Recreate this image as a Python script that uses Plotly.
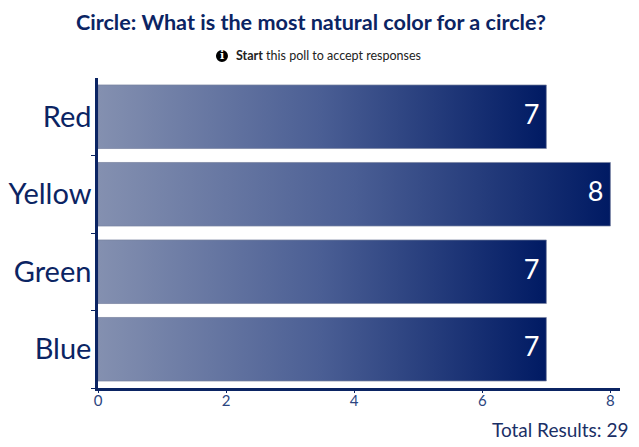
import plotly.graph_objects as go

# poll data
categories = ["Red", "Yellow", "Green", "Blue"]
votes = [7, 8, 7, 7]
x_ticks = [0, 2, 4, 6, 8]

title_text = "Circle: What is the most natural color for a circle?"
total_text = "Total Results: 29"

navy = "#0b2463"
bar_half = 0.41

fig = go.Figure()

# each bar is a filled rectangle so it can carry a left-to-right gradient
for i, (cat, v) in enumerate(zip(categories, votes)):
    fig.add_trace(go.Scatter(
        x=[0, v, v, 0, 0],
        y=[i - bar_half, i - bar_half, i + bar_half, i + bar_half, i - bar_half],
        mode="lines",
        fill="toself",
        fillgradient=dict(type="horizontal",
                          colorscale=[[0, "#8490b0"], [0.5, "#4a5e94"], [1, "#001a63"]]),
        line=dict(color="rgba(120,130,160,0.7)", width=1),
        hoverinfo="skip",
        showlegend=False,
    ))

# value labels at the end of each bar
fig.add_trace(go.Scatter(
    x=votes,
    y=list(range(len(categories))),
    mode="text",
    text=[str(v) + " " for v in votes],
    textposition="middle left",
    textfont=dict(color="white", size=27, family="Lato"),
    hoverinfo="skip",
    showlegend=False,
))

# page body adds 8px, so the figure is 8px smaller than the window
fig.update_layout(
    width=631,
    height=439,
    margin=dict(l=90, r=19, t=70, b=59),
    paper_bgcolor="white",
    plot_bgcolor="white",
    font=dict(family="Lato", color=navy),
    title=dict(text="<b>" + title_text + "</b>", x=0.48, xanchor="center",
               y=0.968, yanchor="middle", font=dict(size=21.6, color=navy)),
)

fig.update_xaxes(
    range=[0, 8.15],
    tickvals=x_ticks,
    showgrid=False,
    zeroline=False,
    showline=True,
    linecolor=navy,
    linewidth=2.5,
    ticks="outside",
    ticklen=2,
    tickcolor=navy,
    ticklabelstandoff=-5,
    tickfont=dict(size=15, color="#2c4580"),
    automargin=False,
)

fig.update_yaxes(
    range=[3.5, -0.5],
    tickvals=list(range(len(categories))),
    ticktext=categories,
    showgrid=False,
    zeroline=False,
    showline=True,
    linecolor=navy,
    linewidth=2.5,
    ticks="",
    ticklabelstandoff=-2,
    tickfont=dict(size=29, color=navy),
    minor=dict(tickvals=[0.5, 1.5, 2.5, 3.5], ticks="outside", ticklen=4, tickcolor=navy),
    automargin=False,
)

# "Start this poll" note with info icon
fig.add_shape(type="circle", xref="paper", yref="paper", layer="below",
              x0=0.226, x1=0.249, y0=1.052, y1=1.09,
              fillcolor="black", line=dict(color="black", width=0))
fig.add_annotation(text="<b>i</b>", xref="paper", yref="paper", x=0.2375, y=1.071,
                   xanchor="center", yanchor="middle", showarrow=False,
                   font=dict(size=11, color="white", family="DejaVu Serif"))
fig.add_annotation(text="<b>Start</b> this poll to accept responses", xref="paper", yref="paper",
                   x=0.4425, y=1.071, xanchor="center", yanchor="middle", showarrow=False,
                   font=dict(size=12.5, color="#222222"))

fig.add_annotation(text=total_text, xref="paper", yref="paper", x=1.019, y=-0.135,
                   xanchor="right", yanchor="middle", showarrow=False,
                   font=dict(size=19, color="#1a2f66"))

fig.write_html("out.html")
